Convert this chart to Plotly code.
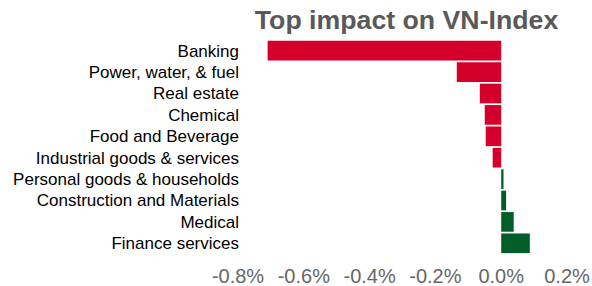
import plotly.graph_objects as go

categories = ["Banking", "Power, water, & fuel", "Real estate", "Chemical",
              "Food and Beverage", "Industrial goods & services",
              "Personal goods & households", "Construction and Materials",
              "Medical", "Finance services"]
impact = [-0.710, -0.135, -0.065, -0.050, -0.047, -0.026, 0.007, 0.015, 0.038, 0.087]
tick_vals = [-0.8, -0.6, -0.4, -0.2, 0.0, 0.2]
tick_text = ["-0.8%", "-0.6%", "-0.4%", "-0.2%", "0.0%", "0.2%"]

colors = ["#D4002B" if v < 0 else "#005E26" for v in impact]

fig = go.Figure(go.Bar(
    x=impact, y=categories, orientation="h",
    marker=dict(color=colors, line=dict(width=0)),
))

fig.update_layout(
    width=592, height=286,
    margin=dict(l=238, r=25, t=40, b=32, autoexpand=False),
    paper_bgcolor="white", plot_bgcolor="white",
    bargap=0.08,
    showlegend=False,
    title=dict(text="<b>Top impact on VN-Index</b>", x=406.5/592, xanchor="center",
               xref="container", y=1-10/286, yanchor="top", yref="container",
               font=dict(family="Liberation Sans, Arial", size=26.7, color="#595959")),
    font=dict(family="Liberation Sans, Arial"),
)
fig.update_xaxes(range=[-0.8, 0.2], tickvals=tick_vals, ticktext=tick_text,
                 showgrid=False, zeroline=False, showline=False, ticks="",
                 automargin=False, ticklabelstandoff=8,
                 tickfont=dict(size=20, color="#666666"))
fig.update_yaxes(autorange="reversed", showgrid=False, zeroline=False, showline=False,
                 ticks="", automargin=False, ticklabelstandoff=-2,
                 tickfont=dict(size=17, color="#000000"))

fig.write_html("out.html", config={"displayModeBar": False},
               post_script="document.body.style.margin='0';")
